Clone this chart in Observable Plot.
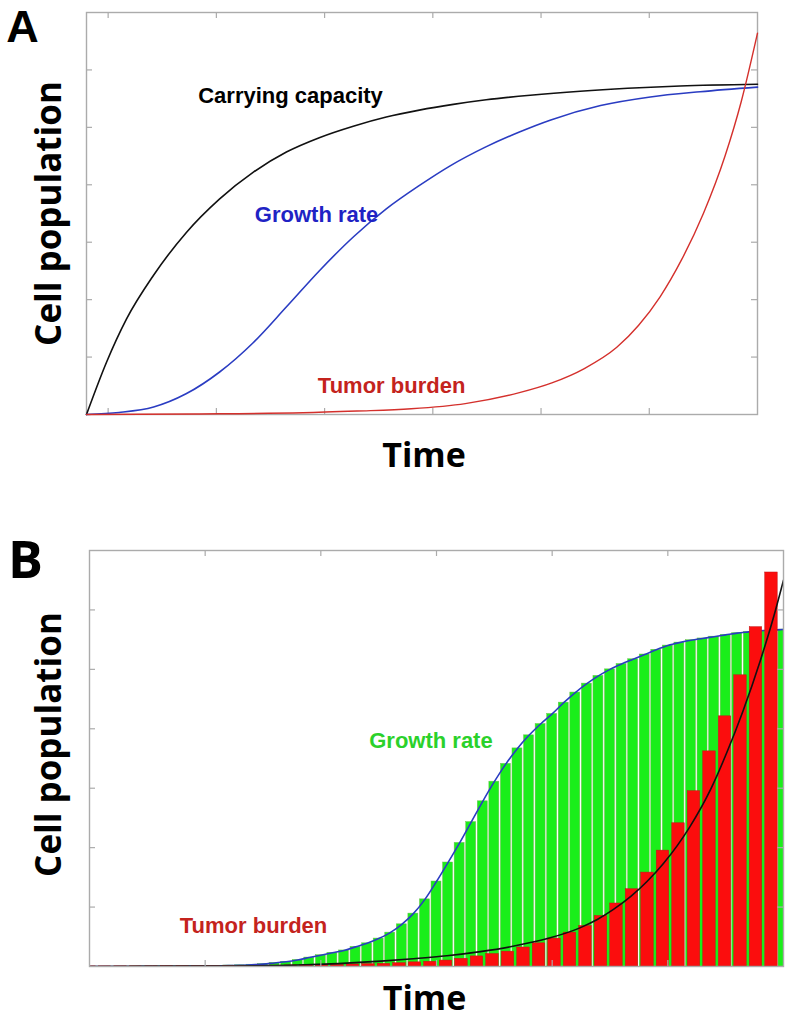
<!DOCTYPE html>
<html><head><meta charset="utf-8">
<script src="https://cdn.jsdelivr.net/npm/d3@7"></script>
<script src="https://cdn.jsdelivr.net/npm/@observablehq/plot@0.6"></script>
<style>
body{margin:0;background:#fff;}
#chart{width:787px;height:1020px;overflow:hidden;}
#chart svg{display:block;}
</style></head><body><div id="chart"></div>
<script>
// ---------- Panel A data (time, population) ----------
const capT = [0,0.185,0.369,0.618,0.923,1.228,1.542,1.847,2.151,2.465,2.77,3.075,3.389,3.693,4.1,4.562,5.0,5.485,6.2];
const capV = [0,0.91,1.66,2.42,3.17,3.75,4.22,4.57,4.82,5.02,5.18,5.30,5.40,5.48,5.56,5.63,5.68,5.72,5.75];
const growT = [0,0.30,0.62,0.92,1.23,1.54,1.85,2.15,2.47,2.77,3.07,3.36,3.69,4.0,4.29,4.75,5.21,5.67,6.2];
const growV = [0,0.035,0.13,0.36,0.74,1.25,1.88,2.5,3.1,3.58,3.98,4.33,4.66,4.92,5.13,5.38,5.53,5.62,5.70];
const tumT = [0,1.0,2.0,2.5,3.0,3.5,4.0,4.3,4.6,4.9,5.1,5.3,5.5,5.7,5.9,6.05,6.2];
const tumV = [0,0.01,0.03,0.06,0.10,0.19,0.38,0.55,0.80,1.17,1.55,2.05,2.7,3.5,4.5,5.45,6.64];
const xTicksA = [0.2,1.2,2.2,3.2,4.2,5.2];
const yTicks = [1,2,3,4,5,6];

// ---------- Panel B data ----------
// green bars: one per 0.1 time step (index -> time)
const greenV = [0,0,0,0,0.001,0.002,0.003,0.004,0.005,0.007,0.009,0.012,0.016,0.02,0.03,0.04,0.06,0.08,0.11,0.15,
  0.19,0.23,0.27,0.33,0.39,0.47,0.57,0.71,0.89,1.13,1.43,1.75,2.08,2.43,2.78,3.11,3.41,3.67,3.89,4.08,
  4.25,4.44,4.61,4.76,4.89,5.00,5.09,5.17,5.25,5.33,5.40,5.45,5.49,5.52,5.55,5.58,5.61,5.63,5.65,5.66,5.67];
// red bars: one per 0.134 time step (index -> time)
const redV = [0.002,0.002,0.003,0.003,0.004,0.005,0.006,0.007,0.008,0.01,0.011,0.013,0.015,0.018,0.021,0.025,0.03,0.035,0.04,
  0.045,0.055,0.07,0.08,0.10,0.13,0.17,0.21,0.25,0.32,0.39,0.47,0.57,0.68,0.85,1.06,1.30,1.58,1.95,2.41,2.95,3.62,4.21,4.90,5.71,6.63];
const burdenT = [0,1.0,1.8,2.52,2.80,3.09,3.38,3.66,3.96,4.24,4.39,4.53,4.68,4.82,4.96,5.08,5.19,5.37,5.51,5.65,5.80,5.91,6.0];
const burdenV = [0,0.006,0.025,0.09,0.13,0.18,0.25,0.34,0.47,0.65,0.79,0.96,1.18,1.43,1.73,2.03,2.35,2.98,3.60,4.30,5.15,5.85,6.5];
const xTicksB = [1,2,3,4,5];

const labels = {A:"A", B:"B", yLabel:"Cell population", xLabel:"Time",
  cap:"Carrying capacity", grow:"Growth rate", tum:"Tumor burden"};

const rows = (T, V) => T.map((t, i) => ({t, v: V[i]}));
const greenRows = greenV.map((v, i) => ({t: i * 0.1, v}));
const redRows = redV.map((v, i) => ({t: i * 0.134, v}));

const ARIAL = "Liberation Sans, Arial, sans-serif";
const OPEN = "Open Sans, Noto Sans, sans-serif";
const GRAY = "#ababab";

function ticks(xt, yt, fw, fh) {
  return [
    Plot.ruleX(xt, {x: d => d, insetBottom: fh - 6, stroke: GRAY, strokeWidth: 1.2}),
    Plot.ruleX(xt, {x: d => d, insetTop: fh - 6, stroke: GRAY, strokeWidth: 1.2}),
    Plot.ruleY(yt, {y: d => d, insetRight: fw - 6, stroke: GRAY, strokeWidth: 1.2}),
    Plot.ruleY(yt, {y: d => d, insetLeft: fw - 6, stroke: GRAY, strokeWidth: 1.2}),
    Plot.frame({stroke: GRAY, strokeWidth: 1.4})
  ];
}

const plotA = Plot.plot({
  width: 787, height: 500,
  marginLeft: 86, marginRight: 30, marginTop: 12, marginBottom: 86,
  style: {background: "#fff", overflow: "visible"},
  x: {domain: [0, 6.2], axis: null},
  y: {domain: [0, 7], axis: null},
  marks: [
    ...ticks(xTicksA, yTicks, 671, 402),
    Plot.line(rows(capT, capV), {x: "t", y: "v", stroke: "#111", strokeWidth: 1.6, curve: "monotone-x"}),
    Plot.line(rows(growT, growV), {x: "t", y: "v", stroke: "#2a3cc2", strokeWidth: 1.6, curve: "monotone-x"}),
    Plot.line(rows(tumT, tumV), {x: "t", y: "v", stroke: "#d4302c", strokeWidth: 1.4, curve: "monotone-x"}),
    Plot.text([labels.cap], {x: () => 1.885, y: () => 5.555, text: d => d, textAnchor: "middle", lineAnchor: "middle",
      fontSize: 22, fontWeight: "bold", fontFamily: ARIAL, fill: "#000"}),
    Plot.text([labels.grow], {x: () => 2.126, y: () => 3.483, text: d => d, textAnchor: "middle", lineAnchor: "middle",
      fontSize: 22, fontWeight: "bold", fontFamily: ARIAL, fill: "#1f23c4"}),
    Plot.text([labels.tum], {x: () => 2.819, y: () => 0.505, text: d => d, textAnchor: "middle", lineAnchor: "middle",
      fontSize: 22, fontWeight: "bold", fontFamily: ARIAL, fill: "#c4231d"}),
    Plot.text([labels.A], {frameAnchor: "top-left", dx: -64, dy: 29, text: d => d, textAnchor: "middle", lineAnchor: "bottom",
      fontSize: 45, fontWeight: "bold", fontFamily: ARIAL, fill: "#000"}),
    Plot.text([labels.yLabel], {frameAnchor: "left", dx: -26, dy: 0, rotate: -90, text: d => d, textAnchor: "middle",
      lineAnchor: "bottom", fontSize: 35, fontWeight: "bold", fontFamily: OPEN, fill: "#000"}),
    Plot.text([labels.xLabel], {frameAnchor: "bottom", dx: 2, dy: 52, text: d => d, textAnchor: "middle",
      lineAnchor: "bottom", fontSize: 34, fontWeight: "bold", fontFamily: OPEN, fill: "#000"})
  ]
});

const plotB = Plot.plot({
  width: 787, height: 520,
  marginLeft: 89, marginRight: 4, marginTop: 50, marginBottom: 54,
  style: {background: "#fff", overflow: "visible"},
  x: {domain: [0, 6], axis: null},
  y: {domain: [0, 7], axis: null},
  marks: [
    Plot.rect(greenRows, {x1: d => d.t - 0.043, x2: d => d.t + 0.043, y1: () => 0, y2: "v",
      fill: "#1aee1a", stroke: "#6fbf4f", strokeWidth: 0.5, clip: true}),
    Plot.line(greenRows, {x: "t", y: "v", stroke: "#2a3cc2", strokeWidth: 1.6, curve: "monotone-x", clip: true}),
    Plot.rect(redRows, {x1: d => d.t - 0.054, x2: d => d.t + 0.054, y1: () => 0, y2: "v",
      fill: "#fb0d0d", stroke: "#c01818", strokeWidth: 0.5, clip: true}),
    Plot.line(rows(burdenT, burdenV), {x: "t", y: "v", stroke: "#111", strokeWidth: 1.6, curve: "monotone-x", clip: true}),
    ...ticks(xTicksB, yTicks, 694, 416),
    Plot.text([labels.grow], {x: () => 2.952, y: () => 3.80, text: d => d, textAnchor: "middle", lineAnchor: "middle",
      fontSize: 22, fontWeight: "bold", fontFamily: ARIAL, fill: "#2bd12b"}),
    Plot.text([labels.tum], {x: () => 1.418, y: () => 0.69, text: d => d, textAnchor: "middle", lineAnchor: "middle",
      fontSize: 22, fontWeight: "bold", fontFamily: ARIAL, fill: "#c4231d"}),
    Plot.text([labels.B], {frameAnchor: "top-left", dx: -64, dy: 11, text: d => d, textAnchor: "middle", lineAnchor: "middle",
      fontSize: 52, fontWeight: "bold", fontFamily: OPEN, fill: "#000"}),
    Plot.text([labels.yLabel], {frameAnchor: "left", dx: -29, dy: -14, rotate: -90, text: d => d, textAnchor: "middle",
      lineAnchor: "bottom", fontSize: 35, fontWeight: "bold", fontFamily: OPEN, fill: "#000"}),
    Plot.text([labels.xLabel], {frameAnchor: "bottom", dx: -12, dy: 43, text: d => d, textAnchor: "middle",
      lineAnchor: "bottom", fontSize: 34, fontWeight: "bold", fontFamily: OPEN, fill: "#000"})
  ]
});

document.getElementById("chart").append(plotA, plotB);
</script>
</body></html>
